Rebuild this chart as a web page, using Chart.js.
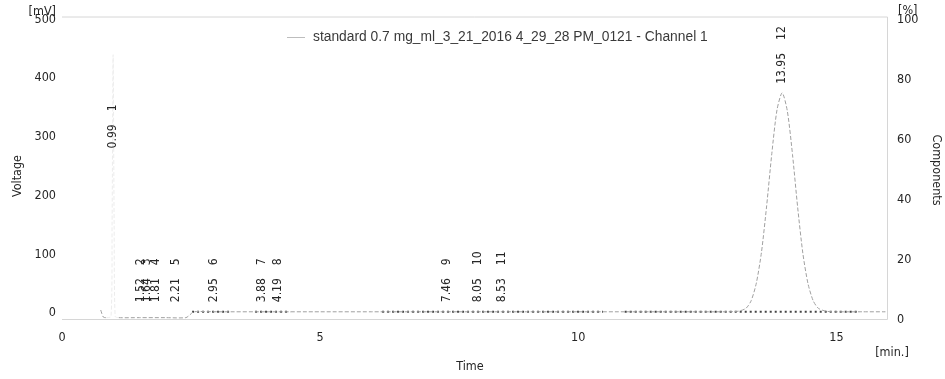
<!DOCTYPE html>
<html><head><meta charset="utf-8">
<script src="https://cdn.jsdelivr.net/npm/chart.js@4"></script>
<style>html,body{margin:0;padding:0;background:#fff}#wrap{width:945px;height:379px;position:relative}</style>
</head><body><div id="wrap"><canvas id="c" width="945" height="379"></canvas></div>
<script>
// ---- data ----
const traceTime = [0.75,0.80,0.86,0.95,0.97,0.99,1.01,1.03,1.10,1.50,2.00,2.40,2.48,2.55,3.00,4.00,5.00,6.00,7.00,8.00,9.00,10.00,11.00,12.00,12.80,13.10,13.25,13.35,13.45,13.55,13.65,13.75,13.85,13.95,14.05,14.15,14.25,14.35,14.45,14.55,14.65,14.80,15.00,15.50,15.95];
const traceVolt = [5,-7,-8,-6,150,440,150,-6,-8,-8,-8,-8,-3,2,2,2,2,2,2,2,2,2,2,2,2,3,8,21,51,104,183,272,346,375,344,270,180,102,50,21,8,3,2,2,2];
const peakTimes = [0.99,1.52,1.64,1.81,2.21,2.95,3.88,4.19,7.46,8.05,8.53,13.95];
const peakNumbers = [1,2,3,4,5,6,7,8,9,10,11,12];
const peakApex = [265,3,3,3,3,3,3,3,3,3,3,375];
const baselineStart = [2.52,3.74,6.20,10.90];
const baselineEnd = [3.29,4.42,10.48,15.40];
const baselineLevel = [2,2,2,2];
const voltageTicks = [0,100,200,300,400,500];
const componentTicks = [0,20,40,60,80,100];
const timeTicks = [0,5,10,15];
const seriesName = 'standard 0.7 mg_ml_3_21_2016 4_29_28 PM_0121 - Channel 1';

// ---- build chart ----
const FONT = "'DejaVu Sans Condensed','DejaVu Sans',sans-serif";
const TXT = '#262626';
const datasets = [{
  data: traceTime.map((t,i)=>({x:t,y:traceVolt[i]})),
  borderColor:'#a0a0a0', borderWidth:1, borderDash:[4,2], pointRadius:0, tension:0.25,
  segment:{borderColor: c => (c.p0.parsed.x>=0.86 && c.p1.parsed.x<=1.10) ? '#ececec' : undefined},
  yAxisID:'y'
}];
baselineStart.forEach((s,i)=>{
  datasets.push({data:[{x:s,y:baselineLevel[i]},{x:baselineEnd[i],y:baselineLevel[i]}],
    borderColor:'#444', borderWidth:2, borderDash:[2,3], pointRadius:0, yAxisID:'y'});
});

const decor = {
  id:'decor',
  beforeDatasetsDraw(chart){
    const {ctx, chartArea:a} = chart;
    ctx.save(); ctx.strokeStyle='#d6d6d6'; ctx.lineWidth=1;
    ctx.beginPath();
    ctx.moveTo(a.left, a.top+0.5); ctx.lineTo(a.right-0.5, a.top+0.5);
    ctx.lineTo(a.right-0.5, a.bottom-0.5); ctx.lineTo(a.left, a.bottom-0.5);
    ctx.stroke(); ctx.restore();
  },
  afterDraw(chart){
    const {ctx, chartArea:a, scales} = chart;
    ctx.save();
    // legend
    ctx.strokeStyle='#bdbdbd'; ctx.lineWidth=1;
    ctx.beginPath(); ctx.moveTo(287,37.5); ctx.lineTo(305,37.5); ctx.stroke();
    ctx.font = "13px 'Liberation Sans', Arial, sans-serif";
    const w = ctx.measureText(seriesName).width;
    const fs = 13*395/w;
    ctx.font = fs.toFixed(2)+"px 'Liberation Sans', Arial, sans-serif";
    ctx.fillStyle='#3a3a3a'; ctx.textBaseline='middle'; ctx.textAlign='left';
    ctx.fillText(seriesName, 313, 37);
    // axis titles and units
    ctx.fillStyle=TXT; ctx.font = "12.5px "+FONT;
    ctx.save(); ctx.translate(18,176); ctx.rotate(-Math.PI/2); ctx.textAlign='center'; ctx.fillText('Voltage',0,0); ctx.restore();
    ctx.save(); ctx.translate(936,170); ctx.rotate(Math.PI/2); ctx.textAlign='center'; ctx.fillText('Components',0,0); ctx.restore();
    ctx.textAlign='center'; ctx.fillText('Time', 470, 367);
    ctx.fillText('[min.]', 892, 353);
    ctx.textAlign='right'; ctx.fillText('[mV]', 56, 12);
    ctx.textAlign='left'; ctx.fillText('[%]', 898, 11);
    // peak labels
    ctx.font = "12px "+FONT; ctx.fillStyle=TXT;
    peakTimes.forEach((t,i)=>{
      const x = scales.x.getPixelForValue(t);
      const y = scales.y.getPixelForValue(peakApex[i]) - 9;
      const s = t.toFixed(2);
      ctx.save(); ctx.translate(x,y); ctx.rotate(-Math.PI/2);
      ctx.textAlign='left'; ctx.textBaseline='middle';
      ctx.fillText(s,0,0);
      ctx.fillText(String(peakNumbers[i]), ctx.measureText(s).width+13, 0);
      ctx.restore();
    });
    ctx.restore();
  }
};

const tickFont = {family:FONT, size:12.5};
new Chart(document.getElementById('c'), {
  type:'line',
  data:{datasets},
  options:{
    responsive:false, animation:false, devicePixelRatio:1,
    layout:{padding:{top:15,left:0,right:0,bottom:0}},
    plugins:{legend:{display:false}, tooltip:{enabled:false}},
    scales:{
      x:{type:'linear', min:0, max:16,
        afterBuildTicks:s=>{s.ticks=timeTicks.map(v=>({value:v}));},
        afterFit:s=>{s.height=59;},
        grid:{display:false, drawTicks:false}, border:{display:false},
        ticks:{padding:10, font:tickFont, color:TXT, maxRotation:0, autoSkip:false}},
      y:{type:'linear', position:'left', min:-12, max:505,
        afterBuildTicks:s=>{s.ticks=voltageTicks.map(v=>({value:v}));},
        afterFit:s=>{s.width=62;},
        grid:{display:false, drawTicks:false}, border:{display:false},
        ticks:{padding:6, font:tickFont, color:TXT}},
      y2:{type:'linear', position:'right', min:0, max:101,
        afterBuildTicks:s=>{s.ticks=componentTicks.map(v=>({value:v}));},
        afterFit:s=>{s.width=57;},
        grid:{display:false, drawTicks:false}, border:{display:false},
        ticks:{padding:9, font:tickFont, color:TXT}}
    }
  },
  plugins:[decor]
});
</script></body></html>
